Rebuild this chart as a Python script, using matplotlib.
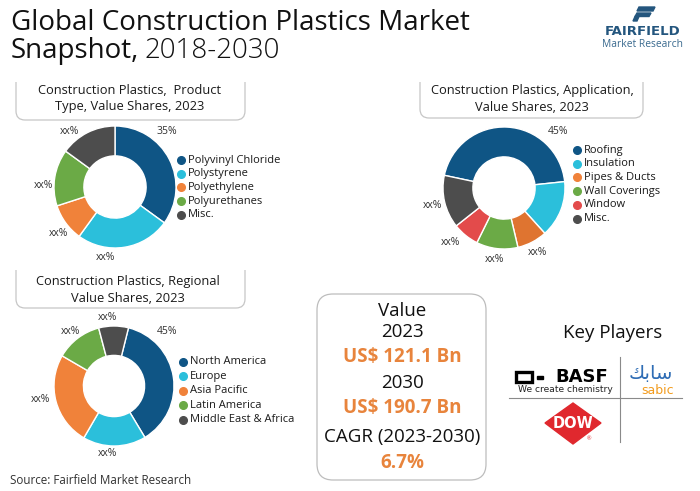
import matplotlib
matplotlib.use('Agg')
import matplotlib.pyplot as plt
from matplotlib.patches import FancyBboxPatch, Polygon, PathPatch
from matplotlib.path import Path

plt.rcParams['font.family'] = ['Open Sans', 'DejaVu Sans']

W, H = 700, 491

# --- data ---
product_types = ["Polyvinyl Chloride", "Polystyrene", "Polyethylene",
                 "Polyurethanes", "Misc."]
product_shares = [35, 25, 10, 15, 15]
product_labels = ["35%", "xx%", "xx%", "xx%", "xx%"]

applications = ["Roofing", "Insulation", "Pipes & Ducts", "Wall Coverings",
                "Window", "Misc."]
application_shares = [45, 15, 8, 11, 7, 14]
application_labels = ["45%", "", "xx%", "xx%", "xx%", "xx%"]

regions = ["North America", "Europe", "Asia Pacific", "Latin America",
           "Middle East & Africa"]
region_shares = [37.5, 17, 25, 12.5, 8]
region_labels = ["45%", "xx%", "xx%", "xx%", "xx%"]

value_2023 = "US$ 121.1 Bn"
value_2030 = "US$ 190.7 Bn"
cagr = "6.7%"

BLUE = '#0F5585'
CYAN = '#2BBFDB'
ORANGE = '#F0823A'
GREEN = '#6BAA46'
GRAY = '#4D4D4D'
RED = '#E34B4B'
VAL_ORANGE = '#E8843C'

fig = plt.figure(figsize=(7, 4.91), dpi=100)
ax = fig.add_axes([0, 0, 1, 1])
ax.set_xlim(0, W)
ax.set_ylim(H, 0)
ax.axis('off')


def donut(cx, cy, r, shares, colors, start):
    pad = 1.02
    dax = fig.add_axes([(cx - r * pad) / W, (H - cy - r * pad) / H,
                        2 * r * pad / W, 2 * r * pad / H])
    dax.pie(shares, colors=colors, startangle=start, counterclock=False,
            radius=1, wedgeprops=dict(width=0.49, edgecolor='white',
                                      linewidth=1))
    dax.set_xlim(-pad, pad)
    dax.set_ylim(-pad, pad)
    dax.axis('off')


def legend(x, y0, dy, names, colors):
    for i, (n, c) in enumerate(zip(names, colors)):
        y = y0 + i * dy
        ax.plot(x, y, 'o', ms=5.5, color=c)
        ax.text(x + 6.5, y, n, va='center', ha='left', fontsize=8,
                color='#1a1a1a')


def labels(texts, positions):
    for t, p in zip(texts, positions):
        if t and p:
            ax.text(p[0], p[1], t, ha='center', va='center', fontsize=7.5,
                    color='#333333')


def tab(x0, x1, y0, y1, lines, cx, ys):
    rad = 9
    verts = [(x0, y0), (x0, y1 - rad), (x0, y1), (x0 + rad, y1),
             (x1 - rad, y1), (x1, y1), (x1, y1 - rad), (x1, y0)]
    codes = [Path.MOVETO, Path.LINETO, Path.CURVE3, Path.CURVE3,
             Path.LINETO, Path.CURVE3, Path.CURVE3, Path.LINETO]
    ax.add_patch(PathPatch(Path(verts, codes), fill=False,
                           edgecolor='#c6c6c6', lw=0.9))
    for t, y in zip(lines, ys):
        ax.text(cx, y, t, ha='center', va='center', fontsize=9.3,
                color='#1a1a1a')


# title
ax.text(11, 23, "Global Construction Plastics Market", fontsize=20,
        va='center', ha='left', color='#111111')
snap = ax.text(11, 51, "Snapshot,", fontsize=20, va='center', ha='left',
               color='#111111')
ax.annotate("2018-2030", xy=(1, 0.5), xycoords=snap, xytext=(5, 0),
            textcoords='offset pixels', fontsize=20, va='center', ha='left',
            color='#111111', fontweight='light')

# fairfield logo
ax.add_patch(Polygon([(639, 7), (655, 7), (653, 11), (637, 11)],
                     color='#24567E'))
ax.add_patch(Polygon([(637, 13), (651, 13), (649, 16.5), (635, 16.5)],
                     color='#24567E'))
ax.add_patch(Polygon([(635, 16.5), (639, 16.5), (637, 21), (633, 21)],
                     color='#24567E'))
ax.text(643, 31.5, "FAIRFIELD", ha='center', va='center', fontsize=9.5,
        fontweight='bold', color='#24567E', family='DejaVu Sans')
ax.text(643, 44.5, "Market Research", ha='center', va='center',
        fontsize=7.4, color='#3A6A8F')

# donut 1: product type
tab(16, 245, 82, 120, ["Construction Plastics,  Product",
                       "Type, Value Shares, 2023"], 130, [90, 106])
donut(115, 187, 61, product_shares, [BLUE, CYAN, ORANGE, GREEN, GRAY], 90)
labels(product_labels, [(167, 131), (105, 258), (58, 233), (43, 186),
                        (69, 132)])
legend(181, 160, 13.7, product_types, [BLUE, CYAN, ORANGE, GREEN, GRAY])

# donut 2: application
tab(420, 643, 82, 118, ["Construction Plastics, Application,",
                        "Value Shares, 2023"], 532, [90, 107])
donut(504, 188, 61, application_shares,
      [BLUE, CYAN, '#DF7430', GREEN, RED, GRAY], 168)
labels(application_labels, [(558, 132), None, (537, 252), (494, 259),
                            (450, 242), (432, 205)])
legend(577, 150, 13.7, applications, [BLUE, CYAN, ORANGE, GREEN, RED, GRAY])

# donut 3: region
tab(16, 245, 270, 308, ["Construction Plastics, Regional",
                        "Value Shares, 2023"], 128, [281, 298])
donut(114, 386, 60, region_shares, [BLUE, CYAN, ORANGE, GREEN, GRAY], 76)
labels(region_labels, [(167, 332), (107, 453), (40, 400), (70, 331),
                       (107, 318)])
legend(183, 362, 14.4, regions, [BLUE, CYAN, ORANGE, GREEN, GRAY])

# value box
ax.add_patch(FancyBboxPatch((317, 294), 169, 186,
                            boxstyle="round,pad=0,rounding_size=16",
                            fill=False, edgecolor='#bdbdbd', lw=0.9))
vx = 402
ax.text(vx, 311, "Value", ha='center', va='center', fontsize=13.5,
        color='#111111')
ax.text(vx, 332, "2023", ha='center', va='center', fontsize=13.5,
        color='#111111')
ax.text(vx, 357, value_2023, ha='center', va='center', fontsize=13.5,
        fontweight='bold', color=VAL_ORANGE)
ax.text(vx, 383, "2030", ha='center', va='center', fontsize=13.5,
        color='#111111')
ax.text(vx, 408, value_2030, ha='center', va='center', fontsize=13.5,
        fontweight='bold', color=VAL_ORANGE)
ax.text(vx, 437, "CAGR (2023-2030)", ha='center', va='center',
        fontsize=13.5, color='#111111')
ax.text(vx, 463, cagr, ha='center', va='center', fontsize=13.5,
        fontweight='bold', color=VAL_ORANGE)

# key players
ax.text(613, 333, "Key Players", ha='center', va='center', fontsize=13.5,
        color='#111111')
ax.plot([620, 620], [357, 442], color='#8a8a8a', lw=0.8)
ax.plot([509, 682], [398, 398], color='#8a8a8a', lw=0.8)
# BASF
ax.add_patch(plt.Rectangle((516, 372), 16, 10, fill=False,
                           edgecolor='black', lw=2.4))
ax.add_patch(plt.Rectangle((537, 375.5), 6, 3.5, color='black'))
ax.text(582, 377.5, "BASF", ha='center', va='center', fontsize=13,
        fontweight='heavy', color='black', family='DejaVu Sans')
ax.text(565, 390, "We create chemistry", ha='center', va='center',
        fontsize=6.6, color='#222222', family='DejaVu Sans')
# SABIC
ax.text(651, 373, "\uFEDA\uFE91\uFE8E\uFEB3", ha='center', va='center',
        fontsize=14, color='#2F6DB5', family='DejaVu Sans')
ax.text(658, 390, "sabic", ha='center', va='center', fontsize=9,
        color='#F29B1D', family='DejaVu Sans')
# DOW
ax.add_patch(Polygon([(545, 423), (573, 403), (601, 423), (573, 444)],
                     color='#E0282E'))
ax.text(573, 423, "DOW", ha='center', va='center', fontsize=10.5,
        fontweight='bold', color='white', family='DejaVu Sans')
ax.text(589, 439, "\u00ae", ha='center', va='center', fontsize=4,
        color='#E0282E')

# source
ax.text(10, 481, "Source: Fairfield Market Research", ha='left',
        va='center', fontsize=8.4, color='#333333')

fig.savefig('out.png', dpi=100)
